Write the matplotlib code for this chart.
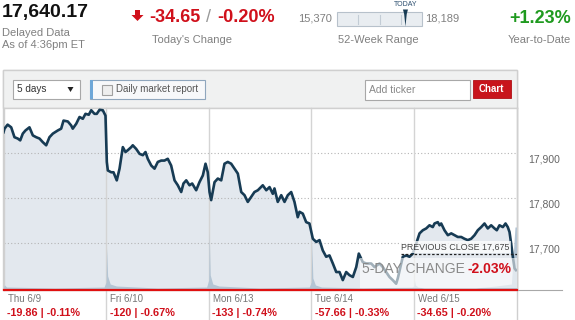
import matplotlib
matplotlib.use('Agg')
import matplotlib.pyplot as plt
import matplotlib.transforms as mtransforms
from matplotlib.patches import Rectangle, Polygon
from matplotlib.lines import Line2D

plt.rcParams['font.family'] = ['Liberation Sans', 'DejaVu Sans']

# quote summary
last_price = 17640.17
today_change = -34.65
today_pct = -0.20
low_52 = 15370
high_52 = 18189
ytd_pct = 1.23
prev_close = 17675
five_day_pct = -2.03

day_labels = ["Thu 6/9", "Fri 6/10", "Mon 6/13", "Tue 6/14", "Wed 6/15"]
day_changes = [-19.86, -120, -133, -57.66, -34.65]
day_pcts = [-0.11, -0.67, -0.74, -0.33, -0.20]

grid_levels = [17700, 17800, 17900]

# intraday prices, time in trading days from Thu open
times = [
    0.000, 0.010, 0.040, 0.075, 0.107, 0.139, 0.163, 0.188, 0.214, 0.237,
    0.253, 0.286, 0.319, 0.351, 0.383, 0.416, 0.448, 0.481, 0.529, 0.562,
    0.585, 0.627, 0.660, 0.675, 0.709, 0.741, 0.773, 0.799, 0.831, 0.855,
    0.887, 0.909, 0.936, 0.968, 0.994,
    1.007, 1.017, 1.050, 1.072, 1.104, 1.131, 1.163, 1.189, 1.211, 1.245,
    1.260, 1.293, 1.326, 1.358, 1.384, 1.406, 1.440, 1.472, 1.504, 1.537,
    1.569, 1.601, 1.634, 1.667, 1.699, 1.732, 1.754, 1.781, 1.813, 1.839,
    1.878, 1.910, 1.943, 1.969, 1.991,
    2.008, 2.024, 2.057, 2.089, 2.122, 2.154, 2.186, 2.219, 2.251, 2.284,
    2.317, 2.349, 2.381, 2.414, 2.446, 2.479, 2.527, 2.561, 2.593, 2.625,
    2.641, 2.673, 2.707, 2.739, 2.771, 2.804, 2.836, 2.868, 2.885, 2.917,
    2.950, 2.982,
    3.015, 3.048, 3.080, 3.112, 3.145, 3.177, 3.210, 3.243, 3.275, 3.307,
    3.340, 3.372, 3.405, 3.438, 3.463, 3.486, 3.502, 3.535, 3.584, 3.616,
    3.665, 3.697, 3.730, 3.762, 3.794, 3.827, 3.843, 3.876, 3.892, 3.925,
    3.957, 3.989,
    4.022, 4.055, 4.087, 4.120, 4.152, 4.184, 4.201, 4.233, 4.250, 4.266,
    4.298, 4.331, 4.364, 4.396, 4.428, 4.461, 4.493, 4.525, 4.558, 4.591,
    4.623, 4.656, 4.688, 4.720, 4.753, 4.786, 4.808, 4.834, 4.867, 4.893,
    4.915, 4.932, 4.948, 4.964, 4.981, 4.995,
]
prices = [
    17947, 17955, 17964, 17958, 17936, 17933, 17929, 17944, 17951, 17955,
    17958, 17940, 17936, 17933, 17925, 17918, 17936, 17944, 17951, 17955,
    17973, 17971, 17962, 17955, 17966, 17981, 17977, 17988, 17986, 17996,
    17988, 17988, 17997, 17996, 17984,
    17881, 17862, 17858, 17858, 17840, 17866, 17914, 17903, 17907, 17914,
    17918, 17910, 17899, 17896, 17903, 17888, 17873, 17866, 17881, 17884,
    17884, 17888, 17873, 17840, 17829, 17814, 17833, 17840, 17829, 17833,
    17818, 17836, 17851, 17877, 17858,
    17814, 17796, 17836, 17844, 17840, 17877, 17881, 17877, 17866, 17855,
    17814, 17807, 17792, 17803, 17814, 17818, 17829, 17818, 17825, 17810,
    17822, 17792, 17807, 17792, 17807, 17814, 17792, 17758, 17770, 17766,
    17747, 17744,
    17710, 17703, 17707, 17684, 17670, 17673, 17655, 17636, 17636, 17618,
    17636, 17629, 17625, 17647, 17677, 17666, 17658, 17655, 17655, 17647,
    17655, 17647, 17636, 17625, 17618, 17610, 17622, 17655, 17670, 17673,
    17670, 17677,
    17699, 17722, 17729, 17733, 17740, 17736, 17744, 17747, 17740, 17744,
    17729, 17718, 17722, 17718, 17714, 17714, 17710, 17707, 17710, 17718,
    17729, 17736, 17744, 17733, 17740, 17733, 17729, 17740, 17736, 17744,
    17736, 17725, 17699, 17670, 17644, 17640.17,
]

# volume (relative units, estimated)
vol_times = [0.00, 0.01, 0.03, 0.50, 0.98,
             1.00, 1.005, 1.015, 1.04, 1.10, 1.50, 1.98,
             2.00, 2.005, 2.015, 2.04, 2.10, 2.50, 2.98,
             3.00, 3.005, 3.015, 3.04, 3.10, 3.50, 3.98,
             4.00, 4.005, 4.015, 4.04, 4.10, 4.60, 4.80, 4.95, 4.985, 5.00]
volumes = [3, 5, 3, 2, 3,
           8, 42, 14, 6, 4, 2, 3,
           10, 58, 15, 6, 4, 2, 3,
           8, 48, 12, 5, 3, 2, 3,
           4, 10, 5, 3, 2, 2, 4, 6, 63, 63]
VOL_TOP = 182

W, H = 575, 320
fig = plt.figure(figsize=(5.75, 3.2), dpi=100)


def fx(x):
    return x / W


def fy(y):
    return 1 - y / H


def frect(x0, y0, x1, y1, **kw):
    r = Rectangle((fx(x0), fy(y1)), (x1 - x0) / W, (y1 - y0) / H,
                  transform=fig.transFigure, **kw)
    fig.patches.append(r)
    return r


red = '#d0101b'
grey = '#808080'
navy = '#173b54'

# ---- header ----
fig.text(fx(2), fy(13), f"{last_price:,.2f}", fontsize=14, weight='bold',
         color='#111111', va='center')
fig.text(fx(2), fy(33), "Delayed Data", fontsize=8, color=grey, va='center')
fig.text(fx(2), fy(45.5), "As of 4:36pm ET", fontsize=8, color=grey, va='center')

arrow = Polygon([(fx(135), fy(10)), (fx(140), fy(10)), (fx(140), fy(15)),
                 (fx(143.5), fy(15)), (fx(137.5), fy(21)), (fx(131.5), fy(15)),
                 (fx(135), fy(15))], closed=True, transform=fig.transFigure,
                fc=red, ec='none')
fig.patches.append(arrow)
fig.text(fx(149), fy(18), f"{today_change:.2f}", fontsize=13, weight='bold',
         color=red, va='center')
fig.text(fx(208.5), fy(18), "/", fontsize=13, color='#999999', va='center', ha='center')
fig.text(fx(217), fy(18), f"{today_pct:.2f}%", fontsize=13, weight='bold',
         color=red, va='center')
fig.text(fx(192.5), fy(40), "Today's Change", fontsize=8, color=grey,
         va='center', ha='center')

# 52-week range
bx0, bx1 = 337, 422
fig.text(fx(332), fy(18.5), f"{low_52:,}", fontsize=8, color=grey, va='center', ha='right')
fig.text(fx(425), fy(18.5), f"{high_52:,}", fontsize=8, color=grey, va='center', ha='left')
frect(bx0, 12.5, bx1, 26, fc='#e9edf1', ec='#b7c1cb', lw=0.8)
for q in (0.25, 0.5, 0.75):
    xq = bx0 + (bx1 - bx0) * q
    fig.add_artist(Line2D([fx(xq), fx(xq)], [fy(15), fy(24)], color='#c3ccd5', lw=0.8))
xm = bx0 + (bx1 - bx0) * (last_price - low_52) / (high_52 - low_52)
fig.patches.append(Polygon([(fx(xm - 2.5), fy(9.5)), (fx(xm + 2.5), fy(9.5)),
                            (fx(xm + 1.3), fy(14)), (fx(xm), fy(26.5)),
                            (fx(xm - 1.3), fy(14))], closed=True,
                           transform=fig.transFigure, fc=navy, ec='none'))
fig.text(fx(xm), fy(4.5), "TODAY", fontsize=5, color='#2a4d6e', va='center', ha='center')
fig.text(fx(378.5), fy(40), "52-Week Range", fontsize=8, color=grey, va='center', ha='center')

fig.text(fx(571), fy(18.5), f"+{ytd_pct:.2f}%", fontsize=13, weight='bold',
         color='#1f9a1f', va='center', ha='right')
fig.text(fx(571), fy(40), "Year-to-Date", fontsize=8, color=grey, va='center', ha='right')

# ---- panel and toolbar ----
frect(3, 70, 517, 290, fc='white', ec='#cfcfcf', lw=1, zorder=-2)
frect(3, 70, 517, 107.5, fc='#f0f1f1', ec='#cfcfcf', lw=1, zorder=-1)

frect(12.5, 80, 80, 98.5, fc='white', ec='#a8a8a8', lw=0.8)
fig.text(fx(17), fy(89.5), "5 days", fontsize=7.2, color='#333333', va='center')
fig.patches.append(Polygon([(fx(67.5), fy(87)), (fx(73.5), fy(87)), (fx(70.5), fy(92))],
                           closed=True, transform=fig.transFigure, fc='#222222', ec='none'))

frect(89.5, 80, 205, 98.5, fc='#f7f8fa', ec='#8fa6bd', lw=0.8)
frect(89.5, 80, 92.5, 98.5, fc='#6ea7d8', ec='none')
frect(101.5, 84.5, 111.5, 94.5, fc='#eeeeee', ec='#a0a0a0', lw=0.8)
fig.text(fx(116.5), fy(89.5), "Daily market report", fontsize=7, color='#555555', va='center')

frect(365, 80, 470, 99.5, fc='white', ec='#a8a8a8', lw=0.8)
fig.text(fx(368.5), fy(90), "Add ticker", fontsize=7.5, color='#888888', va='center')
frect(472.5, 80, 510.5, 97.5, fc='#c8141b', ec='#b01015', lw=0.6)
fig.text(fx(491.5), fy(89), "Chart", fontsize=7, weight='bold', color='white',
         va='center', ha='center')

# ---- chart ----
ax = fig.add_axes([fx(3.5), fy(290), 513 / W, 182 / H])
ax.set_zorder(5)
ax.set_facecolor('white')
ymin, ymax = 17596, 18001

ax.fill_between(times, prices, ymin, color='#e3e8ee', lw=0, zorder=1)
for lvl in grid_levels:
    ax.axhline(lvl, color='#b5b5b5', lw=0.8, ls=(0, (1, 2)), zorder=2)
for d in range(1, 5):
    ax.axvline(d, ymin=-30 / 182, ymax=1, color='#d4d4d4', lw=1, clip_on=False, zorder=2)
ax.axvline(5, ymin=-30 / 182, ymax=1, color='#cfcfcf', lw=1, clip_on=False, zorder=2)

vol_tr = mtransforms.Affine2D().scale(1, 1 / VOL_TOP) + \
    mtransforms.blended_transform_factory(ax.transData, ax.transAxes)
ax.fill_between(vol_times, 0, volumes, transform=vol_tr, color='#b4c5d4', lw=0, zorder=3)

ax.plot(times, prices, color=navy, lw=1.9, solid_joinstyle='round', zorder=4)

# previous close marker
ax.hlines(prev_close, 3.875, 5, colors='#222222', linestyles=(0, (2, 1.5)), lw=0.9, zorder=5)
ax.annotate(f"PREVIOUS CLOSE {prev_close:,}", xy=(5, prev_close), xytext=(-4.8, 2),
            textcoords='offset points', ha='right', va='bottom', fontsize=6.4,
            color='#444444', zorder=7,
            bbox=dict(boxstyle='square,pad=0.15', fc='white', ec='none', alpha=0.75))

# 5-day change overlay
blend = mtransforms.blended_transform_factory(ax.transData, ax.transAxes)
ax.add_patch(Rectangle((3.47, 0.012), 1.53, 0.165, transform=blend, fc='white',
                       ec='none', alpha=0.6, zorder=6))
ax.text(3.49, 0.115, "5-DAY CHANGE", transform=blend, fontsize=10, color='#8a8a8a',
        va='center', ha='left', zorder=7)
ax.text(4.955, 0.115, f"{five_day_pct:.2f}%", transform=blend, fontsize=10,
        weight='bold', color=red, va='center', ha='right', zorder=7)

ax.set_xlim(0, 5)
ax.set_ylim(ymin, ymax)
ax.set_xticks([])
ax.set_yticks(grid_levels)
ax.set_yticklabels([f"{v:,}" for v in grid_levels])
ax.yaxis.tick_right()
ax.tick_params(axis='y', length=0, pad=8.5, labelsize=7.5, labelcolor='#666666')
offset = mtransforms.ScaledTranslation(0, -5 / 100, fig.dpi_scale_trans)
for lbl in ax.get_yticklabels():
    lbl.set_transform(lbl.get_transform() + offset)

for side in ('left', 'right', 'top'):
    ax.spines[side].set_color('#d0d0d0')
    ax.spines[side].set_linewidth(1)
ax.spines['bottom'].set_color('#e01010')
ax.spines['bottom'].set_linewidth(1.6)
ax.spines['bottom'].set_zorder(8)

fig.add_artist(Line2D([fx(517), fx(562)], [fy(290), fy(290)], color='#a8a8a8', lw=0.8))

# day labels under the chart
for i, (lab, chg, pct) in enumerate(zip(day_labels, day_changes, day_pcts)):
    ax.text(i + 0.04, -0.05, lab, transform=blend, fontsize=7, color='#777777',
            va='center', ha='left', clip_on=False)
    ax.text(i + 0.035, -0.128, f"{chg:g} | {pct:.2f}%", transform=blend, fontsize=7.8,
            weight='bold', color=red, va='center', ha='left', clip_on=False)

fig.savefig('out.png', dpi=100)
